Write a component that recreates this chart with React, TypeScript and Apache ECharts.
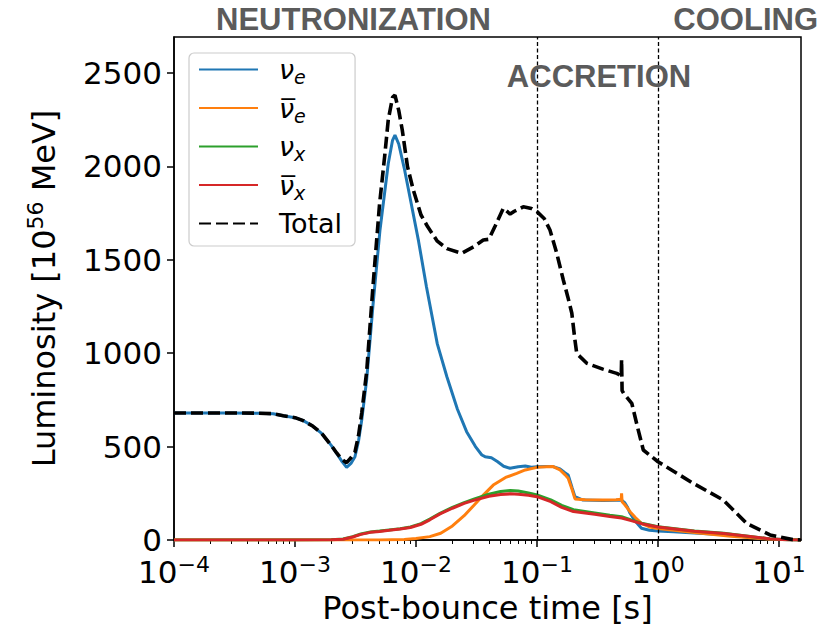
import React, { useEffect, useRef } from 'react';
import * as echarts from 'echarts';

// ---------- data ----------
const seriesNames = ['nue', 'anue', 'nux', 'anux', 'Total'];

const tNuE = [1e-4, 3e-4, 5e-4, 6.6e-4, 8e-4, 1e-3, 1.17e-3, 1.4e-3, 1.66e-3, 2e-3, 2.21e-3, 2.45e-3, 2.67e-3, 2.9e-3, 3.13e-3, 3.35e-3, 3.56e-3, 3.91e-3, 4.4e-3, 5.04e-3, 5.9e-3, 6.4e-3, 6.7e-3, 7.2e-3, 8e-3, 8.9e-3, 1.05e-2, 1.22e-2, 1.5e-2, 1.8e-2, 2.2e-2, 2.62e-2, 3.1e-2, 3.5e-2, 3.72e-2, 4.2e-2, 4.7e-2, 5.3e-2, 5.98e-2, 7e-2, 8e-2, 9e-2, 0.1, 0.12, 0.136, 0.155, 0.17, 0.181, 0.195, 0.206, 0.24, 0.35, 0.45, 0.5, 0.53, 0.56, 0.588, 0.65, 0.73, 0.85, 1, 1.34, 2, 3.5, 6, 8.4, 12, 15.2];
const lNuE = [680, 680, 679, 676, 665, 655, 639, 610, 571, 505, 464, 420, 389, 410, 446, 530, 642, 857, 1250, 1660, 2016, 2140, 2168, 2120, 1990, 1838, 1600, 1356, 1050, 874, 700, 580, 500, 455, 446, 440, 420, 395, 384, 392, 396, 390, 392, 393, 393, 380, 360, 348, 280, 232, 214, 212, 213, 214, 200, 175, 143, 100, 63, 52, 48, 44, 38, 28, 14, 5, 1, 0];

const tANuE = [1e-4, 5e-3, 8e-3, 1e-2, 1.3e-2, 1.6e-2, 2e-2, 2.5e-2, 3e-2, 3.5e-2, 4.35e-2, 5.5e-2, 6.8e-2, 8e-2, 0.1, 0.12, 0.136, 0.155, 0.17, 0.181, 0.195, 0.206, 0.25, 0.35, 0.45, 0.497, 0.5, 0.505, 0.53, 0.56, 0.59, 0.65, 0.73, 0.85, 1, 2, 4, 8, 10, 15.2];
const lANuE = [0, 0, 3, 8, 18, 36, 75, 130, 185, 232, 294, 335, 357, 375, 389, 392, 393, 375, 350, 330, 270, 220, 215, 214, 216, 218, 250, 205, 190, 170, 150, 120, 89, 70, 62, 40, 20, 6, 3, 0];

const tNuX = [1e-4, 1e-3, 2e-3, 2.5e-3, 3e-3, 3.5e-3, 4.2e-3, 5e-3, 6e-3, 7.4e-3, 9e-3, 1.1e-2, 1.3e-2, 1.58e-2, 2e-2, 2.5e-2, 3e-2, 4e-2, 5e-2, 6e-2, 7e-2, 8.5e-2, 0.1, 0.13, 0.16, 0.2, 0.3, 0.4, 0.5, 0.6, 0.75, 1, 2, 3.5, 6, 8.4, 12, 15.2];
const lNuX = [0, 0, 1, 5, 18, 32, 43, 48, 54, 60, 70, 88, 112, 143, 175, 200, 218, 245, 260, 265, 262, 252, 241, 215, 185, 162, 145, 132, 125, 108, 88, 71, 48, 36, 18, 6, 1, 0];

const tANuX = tNuX;
const lANuX = [0, 0, 1, 4, 16, 30, 41, 46, 52, 59, 67, 84, 108, 140, 170, 196, 212, 234, 244, 247, 245, 240, 232, 205, 175, 152, 138, 126, 118, 104, 86, 70, 47, 35, 18, 6, 1, 0];

const tTot = [1e-4, 3e-4, 5e-4, 6.6e-4, 8e-4, 1e-3, 1.17e-3, 1.4e-3, 1.66e-3, 2e-3, 2.21e-3, 2.45e-3, 2.67e-3, 2.9e-3, 3.13e-3, 3.35e-3, 3.56e-3, 3.91e-3, 4.4e-3, 5e-3, 5.5e-3, 5.9e-3, 6.4e-3, 6.7e-3, 7.2e-3, 7.7e-3, 8.5e-3, 9.5e-3, 1.1e-2, 1.25e-2, 1.5e-2, 1.8e-2, 2.39e-2, 3e-2, 3.6e-2, 4e-2, 4.5e-2, 5.27e-2, 6e-2, 6.5e-2, 7.7e-2, 9e-2, 0.1, 0.115, 0.128, 0.145, 0.165, 0.18, 0.194, 0.205, 0.213, 0.258, 0.35, 0.456, 0.497, 0.5, 0.505, 0.52, 0.56, 0.607, 0.68, 0.756, 1, 1.96, 3.47, 5.41, 8.43, 13, 15.2];
const lTot = [680, 680, 679, 676, 665, 655, 639, 610, 571, 505, 466, 430, 414, 440, 470, 560, 680, 900, 1350, 1800, 2050, 2250, 2370, 2382, 2300, 2195, 2000, 1874, 1740, 1677, 1600, 1560, 1535, 1570, 1606, 1610, 1680, 1776, 1745, 1760, 1784, 1775, 1758, 1720, 1660, 1540, 1392, 1300, 1214, 1080, 999, 946, 915, 892, 880, 964, 800, 785, 760, 732, 600, 482, 419, 303, 214, 89, 27, 2, 0];

const phaseBounds = [0.1, 1];
const xMajorTicks = [1e-4, 1e-3, 1e-2, 1e-1, 1, 10];
const yTicks = [0, 500, 1000, 1500, 2000, 2500];
const phaseLabels = ['NEUTRONIZATION', 'ACCRETION', 'COOLING'];

// minor log ticks 2..9 x 10^n
const xMinorTicks: number[] = [];
for (let e = -4; e <= 1; e++) {
  for (let k = 2; k <= 9; k++) {
    const v = k * Math.pow(10, e);
    if (v < 15.2) xMinorTicks.push(Number(v.toPrecision(3)));
  }
}

const zip = (t: number[], v: number[]) => t.map((x, i) => [x, v[i]]);

const FONT = '"DejaVu Sans", sans-serif';
const COLORS = ['#1f77b4', '#ff7f0e', '#2ca02c', '#d62728', '#000000'];

const legendText: Record<string, string> = {
  nue: '{i|ν}{sub|e}',
  anue: '{i|ν\u0305}{sub|e}',
  nux: '{i|ν}{sub|x}',
  anux: '{i|ν\u0305}{sub|x}',
  Total: '{t|Total}',
};

const fmtPow = (v: number) => {
  const e = Math.round(Math.log10(v));
  return `{b|10}{s|${e < 0 ? '\u2212' : ''}${Math.abs(e)}}`;
};

export default function App() {
  const ref = useRef<HTMLDivElement>(null);
  useEffect(() => {
    const chart = echarts.init(ref.current!, null, { renderer: 'svg' });
    const lineData = [zip(tNuE, lNuE), zip(tANuE, lANuE), zip(tNuX, lNuX), zip(tANuX, lANuX), zip(tTot, lTot)];
    const series: any[] = seriesNames.map((name, i) => ({
      name,
      type: 'line',
      data: lineData[i],
      symbol: 'none',
      showSymbol: false,
      silent: true,
      z: 2 + i,
      itemStyle: { color: COLORS[i] },
      lineStyle: i === 4
        ? { color: '#000', width: 3.6, type: [12, 5] }
        : { color: COLORS[i], width: 3 },
    }));
    series[4].markLine = {
      silent: true,
      symbol: ['none', 'none'],
      label: { show: false },
      lineStyle: { color: '#000', width: 1.3, type: [4, 2.5] },
      data: phaseBounds.map((b) => ({ xAxis: b })),
    };

    const option: any = {
      animation: false,
      backgroundColor: '#ffffff',
      grid: {
        left: 174, top: 37, width: 627, height: 503,
        show: true, borderColor: '#000', borderWidth: 1.5, backgroundColor: 'transparent',
        containLabel: false, outerBoundsMode: 'none',
      },
      xAxis: [
        {
          type: 'log', logBase: 10, min: 1e-4, max: 15.2,
          name: 'Post-bounce time [s]', nameLocation: 'middle', nameGap: 50,
          nameTextStyle: { fontFamily: FONT, fontSize: 32, color: '#000' },
          axisLine: { show: true, onZero: false, lineStyle: { color: '#000', width: 1.5 } },
          axisTick: { show: true, inside: false, length: 7, lineStyle: { color: '#000', width: 1.5 }, customValues: xMajorTicks },
          axisLabel: {
            customValues: xMajorTicks, margin: 13, color: '#000', formatter: fmtPow,
            rich: {
              b: { fontFamily: FONT, fontSize: 31, lineHeight: 38, color: '#000' },
              s: { fontFamily: FONT, fontSize: 22, lineHeight: 22, verticalAlign: 'top', color: '#000' },
            },
          },
          splitLine: { show: false }, minorTick: { show: false }, minorSplitLine: { show: false },
        },
        {
          type: 'log', logBase: 10, min: 1e-4, max: 15.2, position: 'bottom',
          axisLine: { show: false }, axisLabel: { show: false }, splitLine: { show: false },
          axisTick: { show: true, inside: false, length: 4, lineStyle: { color: '#000', width: 1 }, customValues: xMinorTicks },
        },
      ],
      yAxis: {
        type: 'value', min: 0, max: 2693,
        name: 'Luminosity [10{s|56} MeV]', nameLocation: 'middle', nameGap: 110, nameRotate: 90,
        nameTextStyle: {
          fontFamily: FONT, fontSize: 32, color: '#000', lineHeight: 40,
          rich: { s: { fontFamily: FONT, fontSize: 22, lineHeight: 22, verticalAlign: 'top', color: '#000' } },
        },
        axisLine: { show: true, onZero: false, lineStyle: { color: '#000', width: 1.5 } },
        axisTick: { show: true, inside: false, length: 7, lineStyle: { color: '#000', width: 1.5 }, customValues: yTicks },
        axisLabel: { customValues: yTicks, margin: 12, fontFamily: FONT, fontSize: 31, lineHeight: 24, color: '#000', formatter: (v: number) => String(v) },
        splitLine: { show: false },
      },
      legend: {
        orient: 'vertical', left: 189, top: 53,
        itemWidth: 59, itemHeight: 14, itemGap: 8,
        padding: [3, 13, 9, 9],
        backgroundColor: 'rgba(255,255,255,0.85)', borderColor: '#cccccc', borderWidth: 1.2, borderRadius: 5,
        selectedMode: false,
        itemStyle: { opacity: 0, borderWidth: 0 },
        data: seriesNames,
        formatter: (n: string) => legendText[n],
        textStyle: {
          fontFamily: FONT, fontSize: 27, color: '#000',
          rich: {
            i: { fontFamily: FONT, fontStyle: 'italic', fontSize: 27, lineHeight: 34, padding: [0, 0, 0, 16], color: '#000' },
            sub: { fontFamily: FONT, fontStyle: 'italic', fontSize: 19, lineHeight: 14, verticalAlign: 'bottom', color: '#000' },
            t: { fontFamily: FONT, fontSize: 27, lineHeight: 34, padding: [0, 0, 0, 16], color: '#000' },
          },
        },
      },
      graphic: [
        { type: 'text', x: 216, y: 19, z: 100, style: { text: phaseLabels[0], font: 'bold 31px "Liberation Sans", Arial, sans-serif', fill: '#5b5b5b', textAlign: 'left', textVerticalAlign: 'middle' } },
        { type: 'text', x: 599, y: 76, z: 100, style: { text: phaseLabels[1], font: 'bold 31px "Liberation Sans", Arial, sans-serif', fill: '#5b5b5b', textAlign: 'center', textVerticalAlign: 'middle' } },
        { type: 'text', x: 818, y: 19, z: 100, style: { text: phaseLabels[2], font: 'bold 31px "Liberation Sans", Arial, sans-serif', fill: '#5b5b5b', textAlign: 'right', textVerticalAlign: 'middle' } },
      ],
      series,
    };
    chart.setOption(option);
    return () => chart.dispose();
  }, []);
  return <div ref={ref} style={{ position: 'fixed', left: 0, top: 0, width: 833, height: 627, background: '#fff' }} />;
}
